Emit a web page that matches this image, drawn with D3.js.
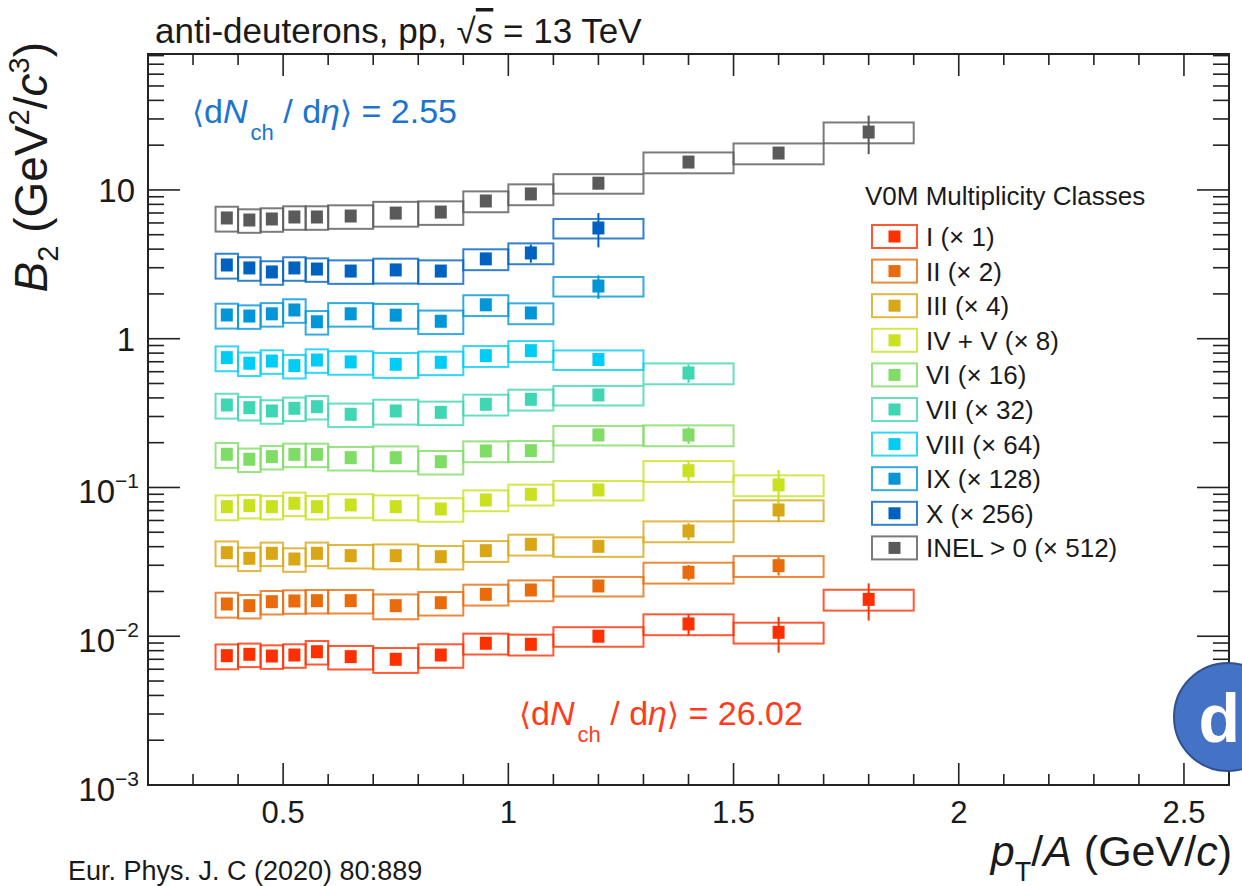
<!DOCTYPE html>
<html>
<head>
<meta charset="utf-8">
<script src="https://cdn.jsdelivr.net/npm/d3@7"></script>
<style>
  html, body { margin: 0; padding: 0; background: #ffffff; }
  svg { display: block; }
  text { font-family: "Liberation Sans", Arial, Helvetica, sans-serif; fill: #1a1a1a; }
</style>
</head>
<body>
<svg id="chart" width="1242" height="886"></svg>
<script>
// ---------------- DATA ----------------
const binLow  = [0.35, 0.40, 0.45, 0.50, 0.55, 0.60, 0.70, 0.80, 0.90, 1.00, 1.10, 1.30, 1.50, 1.70];
const binHigh = [0.40, 0.45, 0.50, 0.55, 0.60, 0.70, 0.80, 0.90, 1.00, 1.10, 1.30, 1.50, 1.70, 1.90];
const binCenter = [0.375, 0.425, 0.475, 0.525, 0.575, 0.65, 0.75, 0.85, 0.95, 1.05, 1.2, 1.4, 1.6, 1.8];

// relative systematic uncertainty per bin (boxes)
const sysRel = [0.19, 0.18, 0.18, 0.18, 0.18, 0.18, 0.19, 0.18, 0.16, 0.16, 0.15, 0.16, 0.16, 0.16];

// B2 values (already multiplied by the class factor shown in the legend)
const b2_I     = [0.0074, 0.00756, 0.00736, 0.00748, 0.00787, 0.00729, 0.0070, 0.00748, 0.00897, 0.00883, 0.0100, 0.0121, 0.01063, 0.0177];
const b2_II    = [0.01647, 0.01605, 0.01707, 0.01726, 0.01734, 0.01734, 0.01605, 0.0168, 0.01914, 0.02046, 0.02177, 0.0269, 0.0298];
const b2_III   = [0.03644, 0.03342, 0.0361, 0.03305, 0.0361, 0.0348, 0.0348, 0.03426, 0.0376, 0.0415, 0.0402, 0.051, 0.0706];
const b2_IVV   = [0.0743, 0.0755, 0.0743, 0.0783, 0.0743, 0.0763, 0.0743, 0.0717, 0.0824, 0.090, 0.0962, 0.1297, 0.104];
const b2_VI    = [0.1672, 0.1548, 0.1611, 0.167, 0.167, 0.1586, 0.1586, 0.149, 0.176, 0.1768, 0.2254, 0.2254];
const b2_VII   = [0.3585, 0.344, 0.3268, 0.3407, 0.3493, 0.3105, 0.3268, 0.320, 0.3624, 0.3916, 0.4186, 0.588];
const b2_VIII  = [0.746, 0.684, 0.708, 0.659, 0.719, 0.698, 0.673, 0.694, 0.769, 0.831, 0.725];
const b2_IX    = [1.444, 1.42, 1.47, 1.56, 1.30, 1.47, 1.44, 1.31, 1.69, 1.49, 2.26];
const b2_X     = [3.13, 2.99, 2.81, 2.99, 2.94, 2.85, 2.90, 2.85, 3.44, 3.77, 5.55];
const b2_INEL  = [6.48, 6.28, 6.38, 6.58, 6.58, 6.68, 6.99, 7.10, 8.43, 9.40, 11.1, 15.4, 17.7, 24.5];

// relative statistical uncertainty (0 = hidden behind the marker)
const stat_I    = [0,0,0,0,0,0,0,0,0,0,0, 0.16, 0.27, 0.28];
const stat_II   = [0,0,0,0,0,0,0,0,0,0,0, 0.12, 0.14];
const stat_III  = [0,0,0,0,0,0,0,0,0,0,0, 0.13, 0.17];
const stat_IVV  = [0,0,0,0,0,0,0,0,0,0,0, 0.15, 0.26];
const stat_VI   = [0,0,0,0,0,0,0,0,0,0,0, 0.13];
const stat_VII  = [0,0,0,0,0,0,0,0,0,0,0, 0.14];
const stat_VIII = [0,0,0,0,0,0,0,0,0,0,0];
const stat_IX   = [0,0,0,0,0,0,0,0,0,0, 0.18];
const stat_X    = [0,0,0,0,0,0,0,0,0, 0.14, 0.26];
const stat_INEL = [0,0,0,0,0,0,0,0,0,0,0,0,0, 0.29];

const classNames  = ["I", "II", "III", "IV + V", "VI", "VII", "VIII", "IX", "X", "INEL > 0"];
const classFactor = [1, 2, 4, 8, 16, 32, 64, 128, 256, 512];
const classColor  = ["#ff3000", "#e96b0c", "#d9a615", "#c9e11f", "#7fdc64", "#3fd6b3", "#00ccf5", "#0096d8", "#0062c0", "#5a5a5a"];
const classValues = [b2_I, b2_II, b2_III, b2_IVV, b2_VI, b2_VII, b2_VIII, b2_IX, b2_X, b2_INEL];
const classStat   = [stat_I, stat_II, stat_III, stat_IVV, stat_VI, stat_VII, stat_VIII, stat_IX, stat_X, stat_INEL];

const xMajorTicks = [0.5, 1, 1.5, 2, 2.5];
const xTickLabels = ["0.5", "1", "1.5", "2", "2.5"];
const yMajorTicks = [1e-3, 1e-2, 1e-1, 1, 10];

// ---------------- LAYOUT ----------------
const svg = d3.select("#chart");
const L = 148, R = 1229, T = 54, B = 785;
const x = d3.scaleLinear().domain([0.2, 2.6]).range([L, R]);
const y = d3.scaleLog().domain([1e-3, 82]).range([B, T]);

const axisColor = "#222";

// ---------------- FRAME & TICKS ----------------
const gAx = svg.append("g");
gAx.append("rect").attr("x", L).attr("y", T).attr("width", R - L).attr("height", B - T)
  .attr("fill", "none").attr("stroke", axisColor).attr("stroke-width", 2);

const xMinor = d3.range(3, 26).map(i => i / 10).filter(v => !xMajorTicks.some(m => Math.abs(m - v) < 1e-9));
const xMajLen = 22, xMinLen = 11;
function xTick(v, len) {
  gAx.append("line").attr("x1", x(v)).attr("x2", x(v)).attr("y1", B).attr("y2", B - len)
    .attr("stroke", axisColor).attr("stroke-width", 1.6);
  gAx.append("line").attr("x1", x(v)).attr("x2", x(v)).attr("y1", T).attr("y2", T + len)
    .attr("stroke", axisColor).attr("stroke-width", 1.6);
}
xMajorTicks.forEach(v => xTick(v, xMajLen));
xMinor.forEach(v => xTick(v, xMinLen));

const yMinor = [];
for (let e = -3; e <= 1; e++) for (let k = 2; k <= 9; k++) { const v = k * Math.pow(10, e); if (v < 82) yMinor.push(v); }
const yMajLen = 32, yMinLen = 16;
function yTick(v, len) {
  gAx.append("line").attr("x1", L).attr("x2", L + len).attr("y1", y(v)).attr("y2", y(v))
    .attr("stroke", axisColor).attr("stroke-width", 1.6);
  gAx.append("line").attr("x1", R).attr("x2", R - len).attr("y1", y(v)).attr("y2", y(v))
    .attr("stroke", axisColor).attr("stroke-width", 1.6);
}
yMajorTicks.forEach(v => yTick(v, yMajLen));
yMinor.forEach(v => yTick(v, yMinLen));

// x tick labels
xMajorTicks.forEach((v, i) => {
  svg.append("text").attr("x", x(v)).attr("y", B + 38).attr("text-anchor", "middle")
    .attr("font-size", 31).text(xTickLabels[i]);
});
// y tick labels
yMajorTicks.forEach(v => {
  const e = Math.round(Math.log10(v));
  const yy = y(v);
  if (e === 0 || e === 1) {
    svg.append("text").attr("x", 135).attr("y", yy + 12).attr("text-anchor", "end")
      .attr("font-size", 33).text(e === 0 ? "1" : "10");
  } else {
    const t = svg.append("text").attr("x", 139).attr("y", yy + 16).attr("text-anchor", "end").attr("font-size", 33);
    t.append("tspan").text("10");
    t.append("tspan").attr("font-size", 21).attr("dy", -15).text("\u2212" + (-e));
  }
});

// ---------------- DATA MARKS ----------------
const gData = svg.append("g");
classValues.forEach((vals, c) => {
  const col = classColor[c];
  const g = gData.append("g");
  // systematic boxes
  g.selectAll("rect.sys").data(vals).enter().append("rect")
    .attr("x", (d, i) => x(binLow[i]))
    .attr("width", (d, i) => x(binHigh[i]) - x(binLow[i]))
    .attr("y", (d, i) => y(d * (1 + sysRel[i])))
    .attr("height", (d, i) => y(d * (1 - sysRel[i])) - y(d * (1 + sysRel[i])))
    .attr("fill", "none").attr("stroke", col).attr("stroke-opacity", 0.8).attr("stroke-width", 2);
  // statistical bars
  g.selectAll("line.stat").data(vals).enter().append("line")
    .attr("x1", (d, i) => x(binCenter[i])).attr("x2", (d, i) => x(binCenter[i]))
    .attr("y1", (d, i) => y(d * (1 + classStat[c][i])))
    .attr("y2", (d, i) => y(d * (1 - classStat[c][i])))
    .attr("stroke", col).attr("stroke-width", 2);
  // markers
  const mw = 12, mh = 13;
  g.selectAll("rect.mk").data(vals).enter().append("rect")
    .attr("x", (d, i) => x(binCenter[i]) - mw / 2)
    .attr("y", d => y(d) - mh / 2)
    .attr("width", mw).attr("height", mh).attr("fill", col);
});

// ---------------- LEGEND ----------------
svg.append("text").attr("x", 865).attr("y", 205).attr("font-size", 26).text("V0M Multiplicity Classes");
classNames.forEach((n, i) => {
  const cy = 236.5 + i * 34.6;
  svg.append("rect").attr("x", 872).attr("y", cy - 11.5).attr("width", 45).attr("height", 23)
    .attr("fill", "none").attr("stroke", classColor[i]).attr("stroke-opacity", 0.8).attr("stroke-width", 2);
  svg.append("rect").attr("x", 894.5 - 6).attr("y", cy - 6).attr("width", 12).attr("height", 12).attr("fill", classColor[i]);
  svg.append("text").attr("x", 926).attr("y", cy + 9.5).attr("font-size", 26)
    .text(n + " (\u00d7 " + classFactor[i] + ")");
});

// ---------------- TEXTS ----------------
// title
const title = svg.append("text").attr("x", 155).attr("y", 43).attr("font-size", 35);
title.append("tspan").text("anti-deuterons, pp, ");
title.append("tspan").text("\u221a");
title.append("tspan").attr("font-style", "italic").style("text-decoration", "overline").text("s");
title.append("tspan").text(" = 13 TeV");

function dndeta(xp, yp, col, val) {
  const t = svg.append("text").attr("x", xp).attr("y", yp).attr("font-size", 34).style("fill", col);
  t.append("tspan").attr("font-family", "DejaVu Sans").attr("font-size", 31).text("\u27e8");
  t.append("tspan").text("d");
  t.append("tspan").attr("font-style", "italic").text("N");
  t.append("tspan").attr("font-size", 22).attr("dy", 17).attr("dx", 3).text("ch");
  t.append("tspan").attr("dy", -17).text(" / d");
  t.append("tspan").attr("font-style", "italic").text("\u03b7");
  t.append("tspan").attr("font-family", "DejaVu Sans").attr("font-size", 31).text("\u27e9");
  t.append("tspan").text(" = " + val);
}
dndeta(192, 123, "#1b74d0", "2.55");
dndeta(519, 725, "#ff3b1c", "26.02");

// axis titles
const yt = svg.append("text").attr("transform", "translate(47,42) rotate(-90)")
  .attr("text-anchor", "end").attr("font-size", 46);
yt.append("tspan").attr("font-style", "italic").text("B");
yt.append("tspan").attr("font-size", 29).attr("dy", 11).text("2");
yt.append("tspan").attr("dy", -11).text(" (GeV");
yt.append("tspan").attr("font-size", 29).attr("dy", -18).text("2");
yt.append("tspan").attr("dy", 18).text("/");
yt.append("tspan").attr("font-style", "italic").text("c");
yt.append("tspan").attr("font-size", 29).attr("dy", -18).text("3");
yt.append("tspan").attr("dy", 18).text(")");

const xt = svg.append("text").attr("x", 1232).attr("y", 866).attr("text-anchor", "end").attr("font-size", 43);
xt.append("tspan").attr("font-style", "italic").text("p");
xt.append("tspan").attr("font-size", 27).attr("dy", 15).text("T");
xt.append("tspan").attr("dy", -15).text("/");
xt.append("tspan").attr("font-style", "italic").text("A");
xt.append("tspan").text(" (GeV/");
xt.append("tspan").attr("font-style", "italic").text("c");
xt.append("tspan").text(")");

// citation
svg.append("text").attr("x", 68).attr("y", 880).attr("font-size", 27)
  .attr("font-family", "Carlito, 'Liberation Sans Narrow', 'Liberation Sans', sans-serif").text("Eur. Phys. J. C (2020) 80:889");

// blue badge at right edge
svg.append("circle").attr("cx", 1228).attr("cy", 717).attr("r", 54)
  .attr("fill", "#4472c4").attr("stroke", "#2f528f").attr("stroke-width", 2);
svg.append("text").attr("x", 1240).attr("y", 742).attr("text-anchor", "end")
  .attr("font-size", 68).attr("font-weight", "bold").style("fill", "#ffffff").text("d");
</script>
</body>
</html>
